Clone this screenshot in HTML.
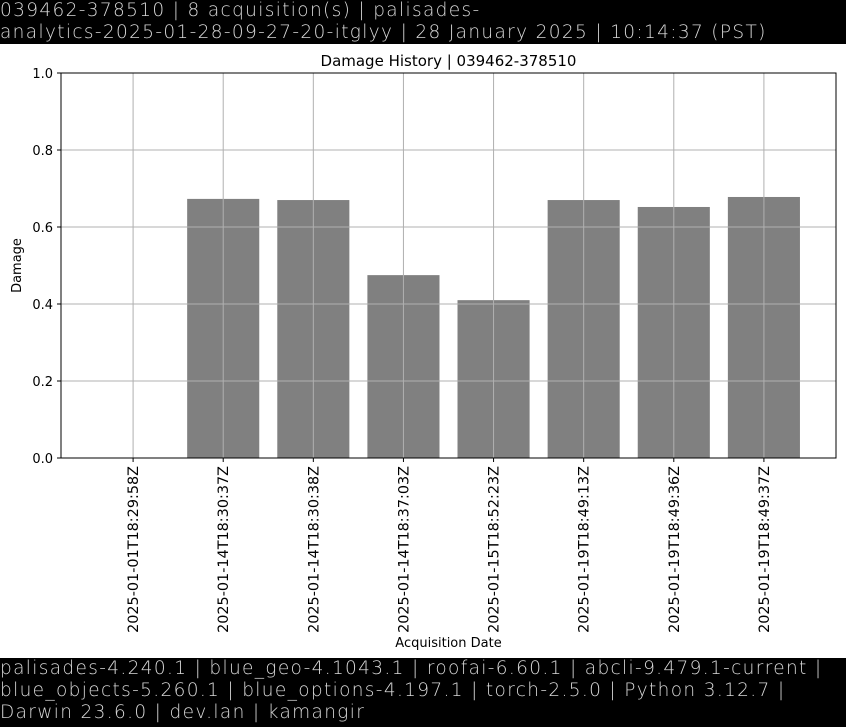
<!DOCTYPE html>
<html><head><meta charset="utf-8"><style>
body{margin:0;width:846px;height:727px;background:#fff;overflow:hidden;font-family:"DejaVu Sans","Liberation Sans",sans-serif;}
.band{position:absolute;left:0;width:846px;background:#000;color:#d8d8d8;font-size:18.5px;line-height:22px;white-space:pre;font-weight:300;letter-spacing:1.35px;}
</style></head><body>
<div class="band" style="top:0;height:44px;">039462-378510 | 8 acquisition(s) | palisades-
analytics-2025-01-28-09-27-20-itglyy | 28 January 2025 | 10:14:37 (PST)</div>
<svg id="chart" width="846" height="727" style="position:absolute;left:0;top:0" font-family="DejaVu Sans, sans-serif"></svg>
<div class="band" style="top:658px;height:69px;">palisades-4.240.1 | blue_geo-4.1043.1 | roofai-6.60.1 | abcli-9.479.1-current |
blue_objects-5.260.1 | blue_options-4.197.1 | torch-2.5.0 | Python 3.12.7 |
Darwin 23.6.0 | dev.lan | kamangir</div>
<script>
const categories=["2025-01-01T18:29:58Z","2025-01-14T18:30:37Z","2025-01-14T18:30:38Z","2025-01-14T18:37:03Z","2025-01-15T18:52:23Z","2025-01-19T18:49:13Z","2025-01-19T18:49:36Z","2025-01-19T18:49:37Z"];
const damage=[0,0.673,0.670,0.475,0.410,0.670,0.652,0.678];
const yTicks=[0,0.2,0.4,0.6,0.8,1.0];
const yTickLabels=["0.0","0.2","0.4","0.6","0.8","1.0"];
const svg=document.getElementById('chart');
const NS='http://www.w3.org/2000/svg';
const L=61,R=836,T=73,B=458;
const xmin=-0.8,xmax=categories.length-0.2;
const xs=v=>L+(v-xmin)/(xmax-xmin)*(R-L);
const ys=v=>B-v*(B-T);
function mk(tag,attrs,txt){const e=document.createElementNS(NS,tag);for(const k in attrs)e.setAttribute(k,attrs[k]);if(txt!==undefined)e.textContent=txt;svg.appendChild(e);return e;}
damage.forEach((v,i)=>{const w=0.8*(xs(1)-xs(0));
const r=mk('rect',{x:xs(i)-w/2,y:ys(v),width:w,height:B-ys(v),fill:'#808080'});

});
yTicks.forEach((t,i)=>{const g=mk('line',{x1:L,x2:R,y1:ys(t),y2:ys(t),stroke:'#b0b0b0','stroke-width':1});


mk('line',{x1:L-4,x2:L,y1:ys(t),y2:ys(t),stroke:'#000'});
const tl=mk('text',{x:L-8,y:ys(t)+5,'text-anchor':'end','font-size':13},yTickLabels[i]);

});
categories.forEach((c,i)=>{const x=xs(i);
const g=mk('line',{x1:x,x2:x,y1:T,y2:B,stroke:'#b0b0b0','stroke-width':1});


mk('line',{x1:x,x2:x,y1:B,y2:B+4,stroke:'#000'});
const tl=mk('text',{x:0,y:0,'text-anchor':'end','font-size':14.4,transform:`translate(${x+5},${B+8}) rotate(-90)`},c);

});
const fr=mk('rect',{x:L,y:T,width:R-L,height:B-T,fill:'none',stroke:'#000','stroke-width':1});


const ti=mk('text',{x:(L+R)/2,y:66,'text-anchor':'middle','font-size':15},'Damage History | 039462-378510');


const xl=mk('text',{x:(L+R)/2,y:647,'text-anchor':'middle','font-size':13},'Acquisition Date');


const yl=mk('text',{x:0,y:0,'text-anchor':'middle','font-size':13,transform:`translate(21,${(T+B)/2}) rotate(-90)`},'Damage');


</script>
</body></html>
